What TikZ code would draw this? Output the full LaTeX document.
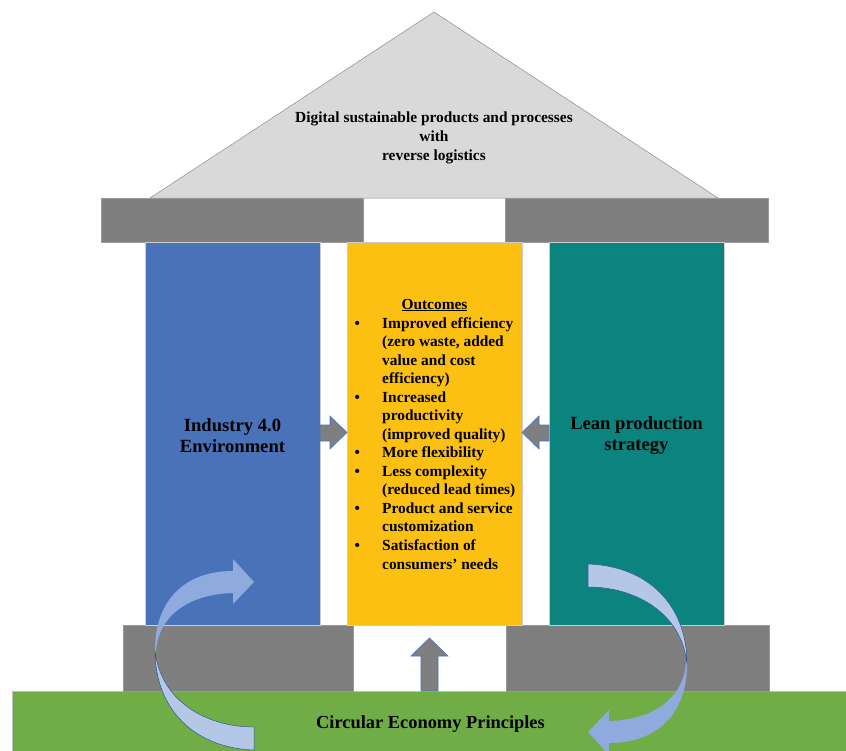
\documentclass[tikz,border=0pt]{standalone}
\usepackage{fontspec}
\setmainfont{Liberation Serif}
\definecolor{roofgray}{HTML}{D9D9D9}
\definecolor{beamgray}{HTML}{7F7F7F}
\definecolor{colblue}{HTML}{4A72B9}
\definecolor{colyellow}{HTML}{FBC012}
\definecolor{colteal}{HTML}{0B8480}
\definecolor{groundgreen}{HTML}{70AD47}
\definecolor{arrlight}{HTML}{B4C7E7}
\definecolor{arrmed}{HTML}{8FAADC}
\definecolor{arrline}{HTML}{2F5597}
\definecolor{smallline}{HTML}{4472C4}
\tikzset{
  beam/.style={fill=beamgray, draw=gray!80, line width=0.4pt},
  column/.style={rectangle, minimum width=175pt, minimum height=383pt, inner sep=0pt, draw=gray!40, line width=0.4pt, align=center},
  coltext/.style={font=\fontsize{18.6}{21}\selectfont\bfseries},
  blockarrow/.style={fill=beamgray, draw=smallline, line width=0.6pt, line join=miter},
}
\begin{document}
\begin{tikzpicture}[x=1pt,y=-1pt]
\useasboundingbox (0,0) rectangle (846,750);
% roof
\draw[fill=roofgray, draw=gray!90, line width=0.5pt] (150,198) -- (434,12) -- (718,198) -- cycle;
\node[font=\fontsize{15.4}{19}\selectfont\bfseries, align=center] (rooftext) at (434,138) {Digital sustainable products and processes\\with\\reverse logistics};
% top beam
\draw[beam] (101,198) rectangle (363,242);
\draw[beam] (505,198) rectangle (768,242);
% ground
\draw[fill=groundgreen, draw=gray!50, line width=0.4pt] (12,691) rectangle (846,751);
% bottom beam
\draw[beam] (123,625) rectangle (353,691);
\draw[beam] (506,625) rectangle (769,691);
% columns
\node[column, fill=colblue] (ind) at (232.5,433.5) {};
\node[column, fill=colyellow] (out) at (434.5,433.5) {};
\node[column, fill=colteal] (lean) at (636.5,433.5) {};
\node[coltext, align=center] (indtext) at (232.5,436) {Industry 4.0\\Environment};
\node[coltext, align=center] (leantext) at (636.5,436) {Lean production\\strategy};
% outcomes text
\node[font=\fontsize{15.4}{18.6}\selectfont\bfseries, anchor=base, inner sep=0pt] (outtitle) at (434.5,309) {\underline{Outcomes}};
\node[font=\fontsize{15.4}{18.54}\selectfont\bfseries, anchor=base west, inner sep=0pt] (outlist) at (350,328)
{\begin{tabular}[t]{@{}c@{\hspace{18pt}}l@{}}
\makebox[14pt]{\textbullet} & Improved efficiency\\
 & (zero waste, added\\
 & value and cost\\
 & efficiency)\\
\makebox[14pt]{\textbullet} & Increased\\
 & productivity\\
 & (improved quality)\\
\makebox[14pt]{\textbullet} & More flexibility\\
\makebox[14pt]{\textbullet} & Less complexity\\
 & (reduced lead times)\\
\makebox[14pt]{\textbullet} & Product and service\\
 & customization\\
\makebox[14pt]{\textbullet} & Satisfaction of\\
 & consumers’ needs
\end{tabular}};
% small block arrows
\draw[blockarrow] (320,425) -- (330,425) -- (330,416) -- (347,432.5) -- (330,449) -- (330,441) -- (320,441) -- cycle;
\draw[blockarrow] (549,425) -- (539,425) -- (539,416) -- (522,432.5) -- (539,449) -- (539,441) -- (549,441) -- cycle;
\draw[blockarrow] (421,691) -- (421,656) -- (411,656) -- (429.5,638) -- (448,656) -- (438,656) -- (438,691) -- cycle;
% ground text
\node[font=\fontsize{18.4}{21}\selectfont\bfseries] (ground) at (430.5,724) {Circular Economy Principles};
% curved arrows
\foreach \ang in {0,180}{
\begin{scope}[rotate around={\ang:(421,657)}]
\draw[fill=arrlight, draw=arrline, line width=0.5pt] (254,727) -- (254,750) .. controls (195,748) and (155,710) .. (155,650) .. controls (160,700) and (205,727) .. (254,727) -- cycle;
\fill[arrmed] (155,650) .. controls (155,600) and (185,571) .. (233,571) -- (233,559) -- (254,582) -- (233,604) -- (233,593) .. controls (190,594) and (158,615) .. (156,652) -- cycle;
\end{scope}
}
\end{tikzpicture}
\end{document}
